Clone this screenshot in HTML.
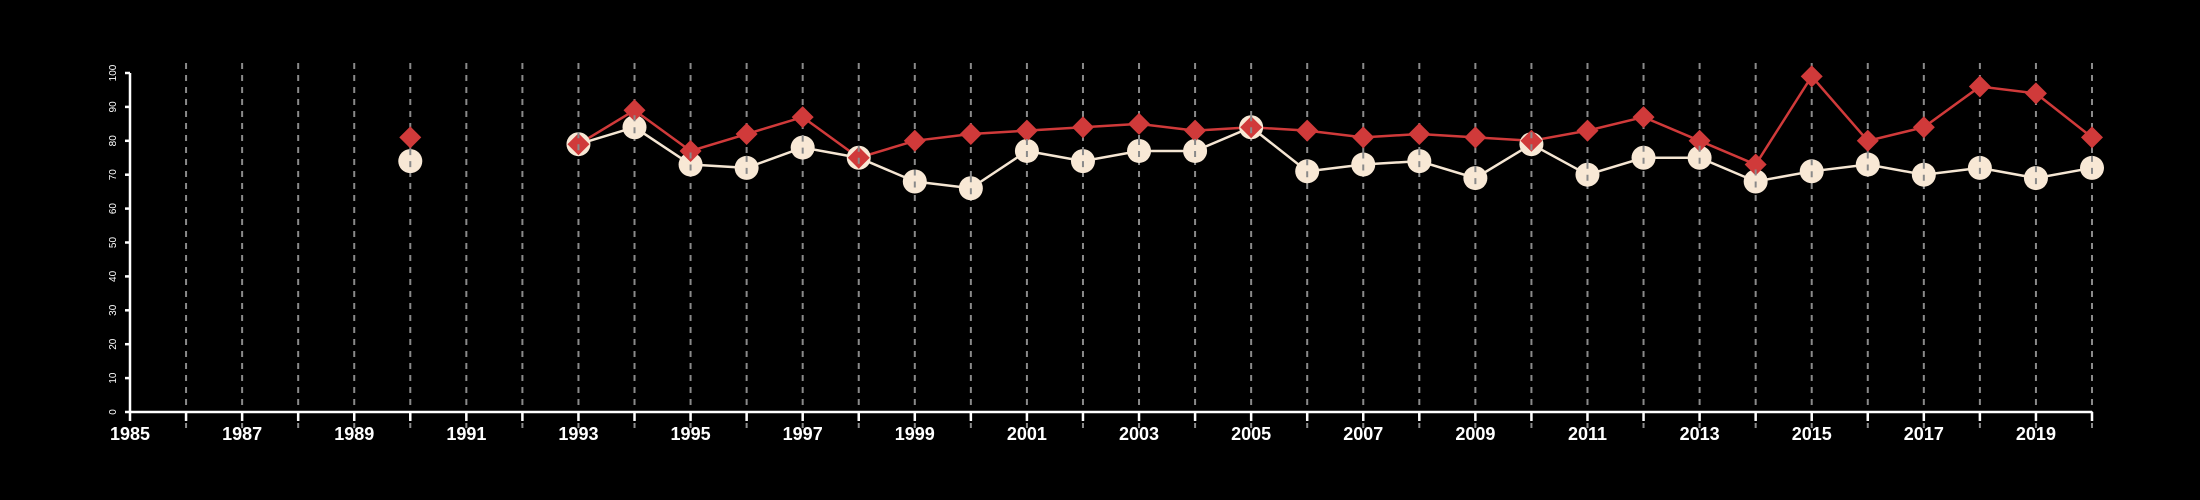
<!DOCTYPE html>
<html><head><meta charset="utf-8"><style>
html,body{margin:0;padding:0;background:#000;}
svg{display:block;font-family:"Liberation Sans",sans-serif;}
</style></head><body>
<svg id="chart" width="2200" height="500" viewBox="0 0 2200 500" xmlns="http://www.w3.org/2000/svg">
<rect width="2200" height="500" fill="#000"/>
<g id="grid"></g>
<g id="axes"></g>
<g id="series"></g>
<g id="grid2"></g>
</svg>
<script>
const years = [1990,1993,1994,1995,1996,1997,1998,1999,2000,2001,2002,2003,2004,2005,2006,2007,2008,2009,2010,2011,2012,2013,2014,2015,2016,2017,2018,2019,2020];
const whiteValues = [74,79,84,73,72,78,75,68,66,77,74,77,77,84,71,73,74,69,79,70,75,75,68,71,73,70,72,69,72];
const redValues = [81,79,89,77,82,87,75,80,82,83,84,85,83,84,83,81,82,81,80,83,87,80,73,99,80,84,96,94,81];
const yTicks = [0,10,20,30,40,50,60,70,80,90,100];
const xLabels = [1985,1987,1989,1991,1993,1995,1997,1999,2001,2003,2005,2007,2009,2011,2013,2015,2017,2019];

const NS="http://www.w3.org/2000/svg";
const x0=130,x1=2092,y0=412,y1=73;
const xs=y=>x0+(y-1985)*(x1-x0)/35;
const ys=v=>y0-v*(y0-y1)/100;
function mk(tag,attrs,parent){const e=document.createElementNS(NS,tag);for(const k in attrs)e.setAttribute(k,attrs[k]);parent.appendChild(e);return e;}
const grid=document.getElementById('grid'),axes=document.getElementById('axes'),series=document.getElementById('series'),grid2=document.getElementById('grid2');

for(let yr=1986;yr<=2020;yr++){
  const l=mk('line',{x1:xs(yr),x2:xs(yr),y1:63,y2:428,stroke:'#8a8a8a','stroke-width':2,'stroke-dasharray':'6,6'},grid);
  
  
}
const ax=mk('line',{x1:x0,x2:x1,y1:y0,y2:y0,stroke:'#fff','stroke-width':2.5},axes);


const ay=mk('line',{x1:x0,x2:x0,y1:y0,y2:y1,stroke:'#fff','stroke-width':2.5},axes);


for(let yr=1985;yr<=2020;yr++){
  const t=mk('line',{x1:xs(yr),x2:xs(yr),y1:y0,y2:y0+9,stroke:'#fff','stroke-width':2.5},axes);
  
  
}
xLabels.forEach(yr=>{
  const t=mk('text',{x:xs(yr),y:440,fill:'#fff','font-size':18,'font-weight':'bold','text-anchor':'middle'},axes);
  t.textContent=yr;
  
  
});
yTicks.forEach(v=>{
  const t=mk('line',{x1:x0-5,x2:x0,y1:ys(v),y2:ys(v),stroke:'#fff','stroke-width':2.5},axes);
  
  
  const lb=mk('text',{x:0,y:0,fill:'#fff','font-size':10,'text-anchor':'middle',transform:`translate(116,${ys(v)}) rotate(-90)`},axes);
  lb.textContent=v;
  
  
});
function drawLine(vals,color,name){
  let seg=[];
  const segs=[];
  years.forEach((yr,i)=>{
    if(i>0&&yr-years[i-1]>1){segs.push(seg);seg=[];}
    seg.push([xs(yr),ys(vals[i])]);
  });
  segs.push(seg);
  segs.forEach(s=>{
    if(s.length<2)return;
    const p=mk('polyline',{points:s.map(q=>q.join(',')).join(' '),fill:'none',stroke:color,'stroke-width':2.5},series);
    
    
  });
}
drawLine(whiteValues,'#f5e6d3','white-series');
drawLine(redValues,'#d03a3a','red-series');
years.forEach((yr,i)=>{
  const c=mk('circle',{cx:xs(yr),cy:ys(whiteValues[i]),r:12,fill:'#f8e8d5'},series);
  
  
});
years.forEach((yr,i)=>{
  const x=xs(yr),y=ys(redValues[i]),d=11;
  const p=mk('polygon',{points:`${x},${y-d} ${x+d},${y} ${x},${y+d} ${x-d},${y}`,fill:'#d03a3a'},series);
  
  
});
years.forEach((yr,i)=>{
  const y=ys(whiteValues[i]);
  const l=mk('line',{x1:xs(yr),x2:xs(yr),y1:y-12,y2:y+12,stroke:'#8a8a8a','stroke-width':2,'stroke-dasharray':'6,6'},grid2);
  
  
});
</script>
</body></html>
